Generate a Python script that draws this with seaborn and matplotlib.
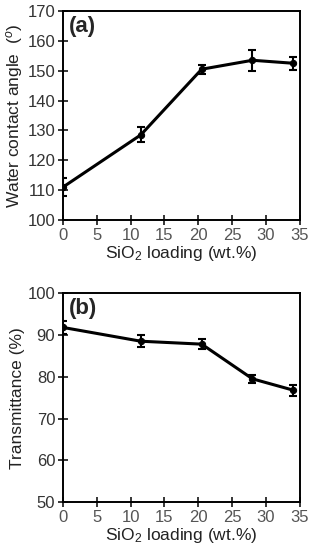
import matplotlib
matplotlib.use('Agg')
import matplotlib.pyplot as plt
import seaborn as sns
import pandas as pd

sio2 = [0, 11.5, 20.5, 28, 34]
angle = [111, 128.5, 150.5, 153.5, 152.5]
angle_err = [3, 2.5, 1.5, 3.5, 2.2]
trans = [91.8, 88.5, 87.8, 79.5, 76.8]
trans_err = [1.5, 1.5, 1.2, 1.0, 1.3]

sns.set_style('ticks')
plt.rcParams['font.family'] = ['Liberation Sans', 'DejaVu Sans']
plt.rcParams['mathtext.fontset'] = 'custom'
plt.rcParams['mathtext.rm'] = 'Liberation Sans'
plt.rcParams['mathtext.it'] = 'Liberation Sans:italic'

fig = plt.figure(figsize=(3.13, 5.5), dpi=100)
ax1 = fig.add_axes([0.201, 0.6, 0.757, 0.38])
ax2 = fig.add_axes([0.201, 0.087, 0.757, 0.38])

df = pd.DataFrame({'x': sio2, 'angle': angle, 'trans': trans})

def panel(ax, col, err, ylim, step, ylabel, tag):
    sns.lineplot(data=df, x='x', y=col, ax=ax, color='black', lw=2.2,
                 marker='o', markersize=4.5, markeredgecolor='black')
    ax.errorbar(sio2, df[col], yerr=err, fmt='none', ecolor='black',
                elinewidth=1.5, capsize=3, capthick=1.5)
    ax.set_xlim(0, 35)
    ax.set_ylim(*ylim)
    ax.set_xticks(range(0, 36, 5))
    ax.set_yticks(range(ylim[0], ylim[1] + 1, step))
    ax.tick_params(axis='x', direction='inout', length=7, width=1.3,
                   labelsize=12, labelcolor='#555555', pad=2)
    ax.tick_params(axis='y', direction='inout', length=7, width=1.3,
                   labelsize=12, labelcolor='#333333', pad=2)
    for s in ax.spines.values():
        s.set_linewidth(1.4)
        s.set_color('black')
    ax.set_xlabel('SiO$_2$ loading (wt.%)', fontsize=12.5, labelpad=1,
                  color='#222222')
    ax.set_ylabel(ylabel, fontsize=12.5, labelpad=2, color='#222222')
    ax.text(0.025, 0.975, tag, transform=ax.transAxes, fontsize=16,
            fontweight='bold', va='top', ha='left')

panel(ax1, 'angle', angle_err, (100, 170), 10, 'Water contact angle  ($^{o}$)', '(a)')
panel(ax2, 'trans', trans_err, (50, 100), 10, 'Transmittance (%)', '(b)')

fig.savefig('out.png', dpi=100)
